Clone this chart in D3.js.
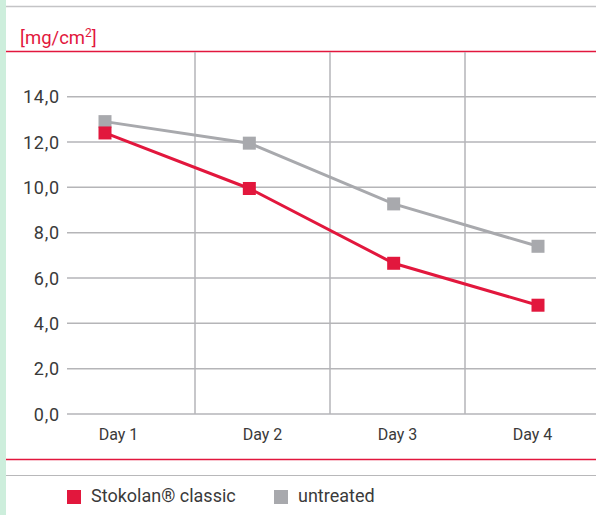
<!DOCTYPE html>
<html>
<head>
<meta charset="utf-8">
<script src="https://cdn.jsdelivr.net/npm/d3@7"></script>
<style>
  html, body { margin: 0; padding: 0; background: #fff; }
  svg { display: block; }
  text { font-family: Roboto, "Liberation Sans", sans-serif; }
</style>
</head>
<body>
<svg id="chart" width="596" height="515"></svg>
<script>
// ---- data ----
const days = ["Day 1", "Day 2", "Day 3", "Day 4"];
const stokolan = [12.4, 9.95, 6.65, 4.8];
const untreated = [12.9, 11.95, 9.27, 7.4];
const yTicks = [0, 2, 4, 6, 8, 10, 12, 14];
const seriesNames = ["Stokolan® classic", "untreated"];
const unitLabel = "[mg/cm";

const RED = "#e2173d";
const GREY = "#a8a9ad";
const GRID = "#b5b5b8";
const TEXT = "#3a3a3a";

const svg = d3.select("#chart");

// left mint strip
svg.append("rect").attr("x", 0).attr("y", 0).attr("width", 6).attr("height", 515).attr("fill", "#cdeedc");

// top rules
svg.append("line").attr("x1", 6).attr("x2", 596).attr("y1", 6.5).attr("y2", 6.5)
  .attr("stroke", "#c4c4c6").attr("stroke-width", 1.5);
svg.append("line").attr("x1", 6).attr("x2", 596).attr("y1", 51.5).attr("y2", 51.5)
  .attr("stroke", RED).attr("stroke-width", 1.5);

// unit label
const ut = svg.append("text").attr("x", 20).attr("y", 44).attr("fill", RED).attr("font-size", 18.5);
ut.append("tspan").text(unitLabel);
ut.append("tspan").attr("font-size", 12).attr("dy", -7).text("2");
ut.append("tspan").attr("dy", 7).text("]");

// scales
const y = d3.scaleLinear().domain([0, 14]).range([414, 96.7]);
const xBand = d3.scaleBand().domain(days).range([60, 600]).padding(0);
const xPt = d3.scalePoint().domain(days).range([105, 538]);

const fmt = v => d3.format(".1f")(v).replace(".", ",");

// horizontal grid + y labels
const yAxis = svg.append("g");
yAxis.selectAll("line").data(yTicks).join("line")
  .attr("x1", 67).attr("x2", 596)
  .attr("y1", d => y(d)).attr("y2", d => y(d))
  .attr("stroke", GRID).attr("stroke-width", 1.5);
yAxis.selectAll("text").data(yTicks).join("text")
  .attr("x", 60).attr("y", d => y(d) + 6.5)
  .attr("text-anchor", "end").attr("fill", TEXT).attr("font-size", 18)
  .attr("letter-spacing", 0.8)
  .text(fmt);

// vertical grid at band boundaries
svg.append("g").selectAll("line").data(days.slice(1)).join("line")
  .attr("x1", d => xBand(d)).attr("x2", d => xBand(d))
  .attr("y1", 52).attr("y2", y(0))
  .attr("stroke", GRID).attr("stroke-width", 1.5);

// x labels
svg.append("g").selectAll("text").data(days).join("text")
  .attr("x", (d, i) => xBand(d) + xBand.bandwidth() / 2 - (i === 0 ? 9 : 0))
  .attr("y", 440).attr("text-anchor", "middle")
  .attr("fill", TEXT).attr("font-size", 16).text(d => d);

// series
const line = d3.line().x(d => xPt(d.day)).y(d => y(d.v));
function drawSeries(vals, color) {
  const data = days.map((d, i) => ({ day: d, v: vals[i] }));
  svg.append("path").datum(data).attr("d", line)
    .attr("fill", "none").attr("stroke", color).attr("stroke-width", 3);
  svg.append("g").selectAll("rect").data(data).join("rect")
    .attr("x", d => xPt(d.day) - 6.5).attr("y", d => y(d.v) - 6.5)
    .attr("width", 13).attr("height", 13).attr("fill", color);
}
drawSeries(untreated, GREY);
drawSeries(stokolan, RED);

// bottom rules
svg.append("line").attr("x1", 6).attr("x2", 596).attr("y1", 459.5).attr("y2", 459.5)
  .attr("stroke", RED).attr("stroke-width", 1.5);
svg.append("line").attr("x1", 6).attr("x2", 596).attr("y1", 475.5).attr("y2", 475.5)
  .attr("stroke", "#b8b8ba").attr("stroke-width", 1.2);

// legend
const legend = [
  { name: seriesNames[0], color: RED, x: 67 },
  { name: seriesNames[1], color: GREY, x: 274 }
];
const lg = svg.append("g").selectAll("g").data(legend).join("g");
lg.append("rect").attr("x", d => d.x).attr("y", 490).attr("width", 14).attr("height", 14)
  .attr("fill", d => d.color);
lg.append("text").attr("x", d => d.x + 24).attr("y", 502)
  .attr("fill", TEXT).attr("font-size", 18).text(d => d.name);
</script>
</body>
</html>
